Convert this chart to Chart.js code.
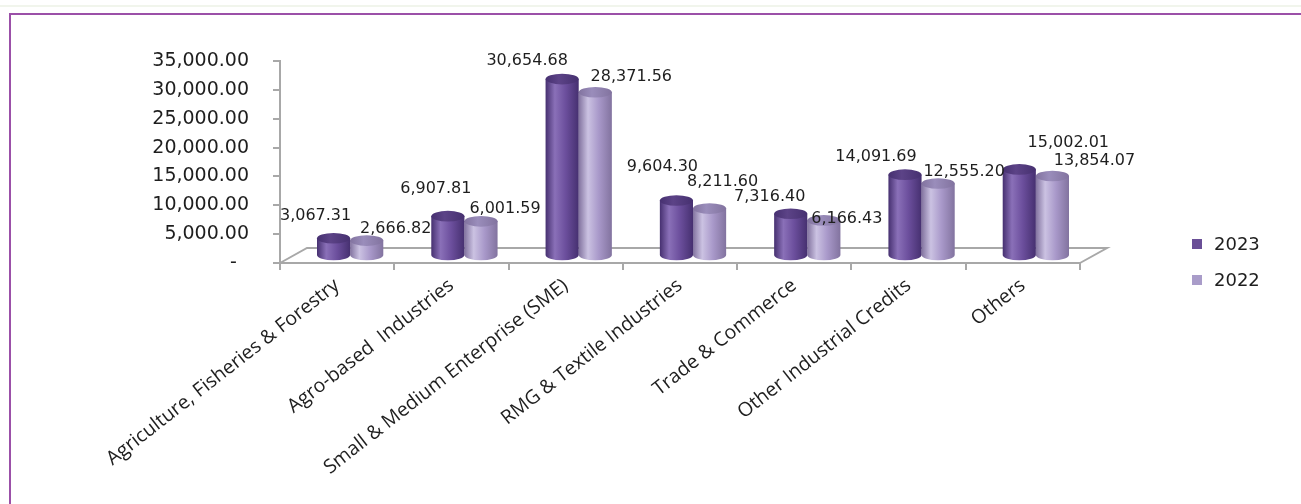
<!DOCTYPE html>
<html>
<head>
<meta charset="utf-8">
<title>Sector-wise Advances</title>
<script src="https://cdn.jsdelivr.net/npm/chart.js@4.4.1/dist/chart.umd.min.js"></script>
<style>
  html, body { margin: 0; padding: 0; background: #fff; overflow: hidden; }
  #wrap { position: relative; width: 1301px; height: 504px; overflow: hidden; }
  #rule { position: absolute; left: 0; top: 5px; width: 1301px; height: 2px; background: #f1f5ec; }
  #frame { position: absolute; left: 9px; top: 13px; width: 1400px; height: 600px;
           border-top: 2.5px solid #9b50a8; border-left: 2.5px solid #9b50a8; box-sizing: border-box; }
  canvas { position: absolute; left: 0; top: 0; }
</style>
</head>
<body>
<div id="wrap">
  <div id="rule"></div>
  <div id="frame"></div>
  <canvas id="sectorChart" width="1301" height="504"></canvas>
</div>
<script>
const sectors = ['Agriculture, Fisheries & Forestry', 'Agro-based  Industries', 'Small & Medium Enterprise (SME)',
  'RMG & Textile Industries', 'Trade & Commerce', 'Other Industrial Credits', 'Others'];
const years = ['2023', '2022'];
const values2023 = [3067.31, 6907.81, 30654.68, 9604.30, 7316.40, 14091.69, 15002.01];
const values2022 = [2666.82, 6001.59, 28371.56, 8211.60, 6166.43, 12555.20, 13854.07];

// cylinder shades per series
const shades = [
  { legend: '#6a4f97', light: '#8a70b8', mid: '#6c4f9d', dark: '#463070', top: '#5c4387' },
  { legend: '#a99cc9', light: '#cbc2e2', mid: '#a999ca', dark: '#82739f', top: '#9a8dbb' }
];

// value label nudges [dx, dy] from the top of each cylinder
const labelNudge = [
  [[-18, -22], [-12, -27], [-35, -18], [-14, -34], [-21, -17], [-29, -18], [49, -27]],
  [[29, -12], [24, -13], [36, -15], [13, -27], [23, -2], [26, -12], [42, -15]]
];

// 3D depth of the floor
const DEPTH_X = 27, DEPTH_Y = -15;
const BAR_DX = 13, BAR_DY = -7;

const fmt = v => v.toLocaleString('en-US', { minimumFractionDigits: 2, maximumFractionDigits: 2 });

const floorPlugin = {
  id: 'floor',
  beforeDatasetsDraw(chart) {
    const { left, right, bottom } = chart.chartArea;
    const ctx = chart.ctx;
    ctx.save();
    ctx.strokeStyle = '#a8a8a8';
    ctx.lineWidth = 2;
    ctx.beginPath();
    ctx.moveTo(left, bottom);
    ctx.lineTo(left + DEPTH_X, bottom + DEPTH_Y);
    ctx.lineTo(right + DEPTH_X, bottom + DEPTH_Y);
    ctx.lineTo(right, bottom);
    ctx.stroke();
    ctx.restore();
  }
};

function drawCylinder(ctx, bar, c) {
  const rx = bar.width / 2;
  const ry = rx * 0.32;
  const cx = bar.x + BAR_DX;
  const top = bar.y + BAR_DY;
  const base = bar.base + BAR_DY;

  const body = ctx.createLinearGradient(cx - rx, 0, cx + rx, 0);
  body.addColorStop(0, c.dark);
  body.addColorStop(0.28, c.light);
  body.addColorStop(0.6, c.mid);
  body.addColorStop(1, c.dark);
  ctx.fillStyle = body;
  ctx.beginPath();
  ctx.moveTo(cx - rx, top);
  ctx.lineTo(cx - rx, base);
  ctx.ellipse(cx, base, rx, ry, 0, Math.PI, 0, true);
  ctx.lineTo(cx + rx, top);
  ctx.closePath();
  ctx.fill();

  const cap = ctx.createLinearGradient(cx - rx, 0, cx + rx, 0);
  cap.addColorStop(0, c.dark);
  cap.addColorStop(0.4, c.top);
  cap.addColorStop(1, c.dark);
  ctx.fillStyle = cap;
  ctx.beginPath();
  ctx.ellipse(cx, top, rx, ry, 0, 0, Math.PI * 2);
  ctx.fill();
}

const cylinderPlugin = {
  id: 'cylinders',
  afterDatasetsDraw(chart) {
    const ctx = chart.ctx;
    ctx.save();
    for (let i = chart.data.datasets.length - 1; i >= 0; i--) {
      chart.getDatasetMeta(i).data.forEach(bar => drawCylinder(ctx, bar, shades[i]));
    }
    // value labels
    ctx.font = '16px "DejaVu Sans"';
    ctx.fillStyle = '#1e1e1e';
    ctx.textAlign = 'center';
    ctx.textBaseline = 'middle';
    chart.data.datasets.forEach((ds, i) => {
      chart.getDatasetMeta(i).data.forEach((bar, j) => {
        const [dx, dy] = labelNudge[i][j];
        ctx.fillText(fmt(ds.data[j]), bar.x + BAR_DX + dx, bar.y + BAR_DY + dy);
      });
    });
    ctx.restore();
  }
};

const legendPlugin = {
  id: 'sideLegend',
  afterDraw(chart) {
    const ctx = chart.ctx;
    const x = chart.chartArea.right + 112;
    let y = chart.chartArea.bottom - 19;
    ctx.save();
    ctx.font = '18px "DejaVu Sans"';
    ctx.textBaseline = 'middle';
    ctx.textAlign = 'left';
    chart.data.datasets.forEach((ds, i) => {
      ctx.fillStyle = shades[i].legend;
      ctx.fillRect(x, y - 5, 10, 10);
      ctx.fillStyle = '#1e1e1e';
      ctx.fillText(ds.label, x + 22, y + 1);
      y += 36;
    });
    ctx.restore();
  }
};

new Chart(document.getElementById('sectorChart'), {
  type: 'bar',
  data: {
    labels: sectors,
    datasets: [
      { label: years[0], data: values2023, backgroundColor: 'rgba(0,0,0,0)', borderWidth: 0 },
      { label: years[1], data: values2022, backgroundColor: 'rgba(0,0,0,0)', borderWidth: 0 }
    ]
  },
  options: {
    responsive: false,
    animation: false,
    events: [],
    categoryPercentage: 0.58,
    barPercentage: 1,
    layout: { padding: { left: 0, top: 61, right: 221, bottom: 0 } },
    plugins: {
      legend: { display: false },
      tooltip: { enabled: false }
    },
    scales: {
      x: {
        afterFit(scale) { scale.height = 241; },
        grid: { offset: true, drawOnChartArea: false, tickLength: 7, color: '#a8a8a8', lineWidth: 2 },
        border: { display: true, color: '#a8a8a8', width: 2 },
        ticks: {
          minRotation: 38,
          maxRotation: 38,
          padding: 4,
          color: '#1e1e1e',
          font: { family: '"Open Sans"', size: 19.5 }
        }
      },
      y: {
        min: 0,
        max: 35000,
        afterFit(scale) { scale.width = 280; },
        grid: { drawOnChartArea: false, tickLength: 7, color: '#a8a8a8', lineWidth: 2 },
        border: { display: true, color: '#a8a8a8', width: 2 },
        ticks: {
          stepSize: 5000,
          padding: 24,
          color: '#1e1e1e',
          font: { family: '"DejaVu Sans"', size: 19 },
          callback: v => v === 0 ? '-  ' : fmt(v)
        }
      }
    }
  },
  plugins: [floorPlugin, cylinderPlugin, legendPlugin]
});
</script>
</body>
</html>
